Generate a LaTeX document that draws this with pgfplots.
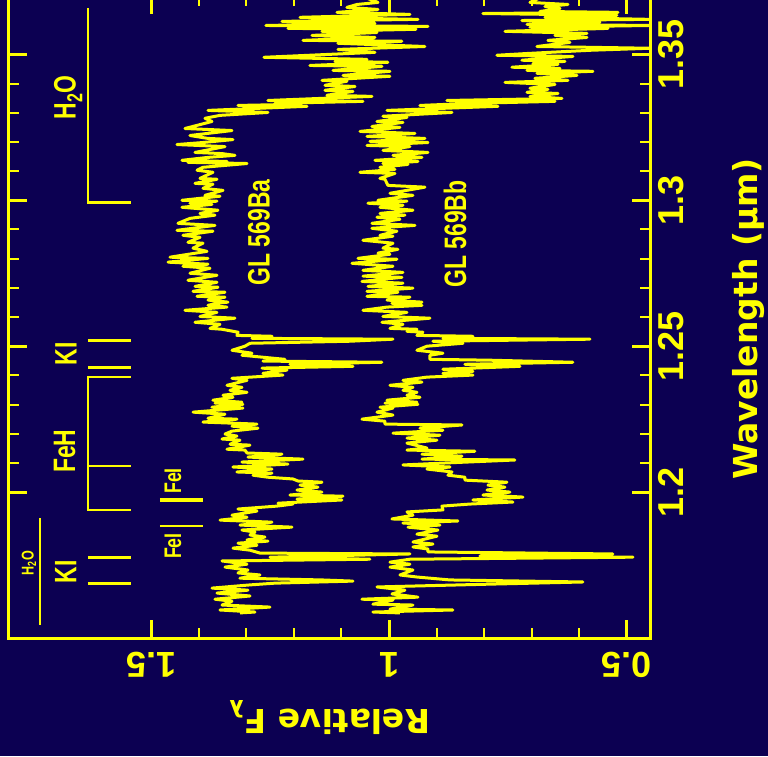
\documentclass[border=0pt]{standalone}
\usepackage{pgfplots}
\pgfplotsset{compat=1.18}
\usepackage{fontspec}
\newfontfamily\tickfont{Liberation Sans}
\newfontfamily\annfont{Liberation Sans}[FakeStretch=0.74]
\newfontfamily\labfont{DejaVu Sans}
\definecolor{bgnavy}{RGB}{12,0,82}
\definecolor{specyellow}{RGB}{255,255,0}

\begin{document}
\begin{tikzpicture}
\fill[bgnavy] (0,0) rectangle (768pt,-756pt);
\begin{axis}[
  at={(8.8pt,-638pt)}, anchor=south west,
  scale only axis, width=641.6pt, height=642pt,
  x dir=reverse,
  xmin=0.45, xmax=1.8, ymin=1.15, ymax=1.37,
  xtick={0.5,1,1.5}, ytick={1.2,1.25,1.3,1.35},
  minor x tick num=4, minor y tick num=4,
  tick align=inside,
  major tick length=18pt, minor tick length=10pt,
  xtick pos=both, ytick pos=both,
  yticklabel pos=right,
  axis line style={specyellow, line width=3pt},
  every tick/.style={specyellow},
  every major tick/.append style={line width=3pt},
  every minor tick/.append style={line width=2pt},
  /pgf/number format/assume math mode=true,
  tick label style={text=specyellow, font=\tickfont\bfseries\fontsize{36}{36}\selectfont},
  xticklabel style={rotate=180, anchor=south},
  xticklabel shift=11pt,
  yticklabel style={rotate=90, anchor=north},
  yticklabel shift=4pt,
]

% GL 569Ba
\addplot[specyellow, line width=3pt, line join=round] table[x=f, y=w] {
w f
1.3702 1.0611
1.3678 1.0232
1.3671 1.0674
1.3661 1.0885
1.3654 1.0232
1.3644 1.1095
1.3637 0.9559
1.3627 1.1873
1.3620 0.9391
1.3613 1.2252
1.3606 1.0296
1.3599 1.2589
1.3596 0.9180
1.3589 1.2126
1.3586 0.9433
1.3579 1.1410
1.3575 1.0253
1.3565 1.1621
1.3558 1.0296
1.3548 1.1810
1.3545 0.9728
1.3538 1.1074
1.3527 0.9244
1.3517 1.1074
1.3507 1.0296
1.3490 1.2631
1.3483 1.0464
1.3476 1.1137
1.3473 1.0022
1.3462 1.1663
1.3459 1.0148
1.3445 1.1179
1.3442 0.9980
1.3428 1.0969
1.3425 0.9980
1.3411 1.1410
1.3408 1.0885
1.3394 1.1347
1.3390 1.0716
1.3377 1.1347
1.3373 1.0758
1.3360 1.1305
1.3356 1.0359
1.3342 1.2547
1.3339 1.0548
1.3332 1.2399
1.3329 1.1915
1.3325 1.3178
1.3322 1.1726
1.3308 1.3809
1.3301 1.2547
1.3291 1.3556
1.3281 1.3872
1.3270 1.3725
1.3246 1.4293
1.3239 1.3304
1.3222 1.4188
1.3212 1.3809
1.3208 1.3283
1.3198 1.3914
1.3191 1.4461
1.3184 1.3451
1.3164 1.4082
1.3160 1.3514
1.3154 1.3241
1.3147 1.3809
1.3137 1.4356
1.3133 1.3409
1.3130 1.4230
1.3126 1.2988
1.3113 1.3914
1.3103 1.4040
1.3096 1.3704
1.3075 1.3977
1.3072 1.3620
1.3058 1.4082
1.3055 1.3704
1.3041 1.3914
1.3034 1.3493
1.3017 1.3872
1.3014 1.3556
1.3000 1.4356
1.2997 1.3620
1.2990 1.4188
1.2986 1.3725
1.2976 1.4356
1.2966 1.3599
1.2955 1.3977
1.2949 1.3662
1.2938 1.4188
1.2921 1.4440
1.2914 1.3662
1.2897 1.4461
1.2894 1.3704
1.2880 1.4335
1.2873 1.3977
1.2856 1.4230
1.2853 1.3914
1.2836 1.4124
1.2825 1.3830
1.2805 1.4608
1.2801 1.3809
1.2788 1.4650
1.2781 1.3809
1.2774 1.4335
1.2767 1.3767
1.2750 1.4188
1.2743 1.3620
1.2726 1.4230
1.2719 1.3620
1.2705 1.4082
1.2702 1.3599
1.2688 1.4124
1.2685 1.3451
1.2671 1.4040
1.2668 1.3451
1.2658 1.3809
1.2651 1.3388
1.2647 1.3620
1.2640 1.3809
1.2634 1.3409
1.2623 1.4293
1.2616 1.3620
1.2602 1.3977
1.2596 1.3241
1.2582 1.4082
1.2575 1.3556
1.2561 1.3767
1.2558 1.3514
1.2548 1.3178
1.2537 1.3199
1.2534 1.2462
1.2527 1.2883
1.2524 0.9917
1.2517 1.0821
1.2510 1.2925
1.2500 1.3031
1.2486 1.3304
1.2476 1.2883
1.2469 1.3094
1.2455 1.2189
1.2449 1.2652
1.2445 1.0148
1.2438 1.2084
1.2431 1.0758
1.2425 1.2673
1.2418 1.2147
1.2407 1.2652
1.2401 1.2231
1.2390 1.3304
1.2383 1.2988
1.2366 1.3409
1.2359 1.3094
1.2349 1.3346
1.2342 1.2988
1.2332 1.3493
1.2325 1.3283
1.2315 1.3704
1.2308 1.3094
1.2305 1.3662
1.2301 1.3073
1.2291 1.3725
1.2288 1.3073
1.2274 1.4124
1.2267 1.3451
1.2253 1.3809
1.2250 1.3199
1.2240 1.3914
1.2233 1.2778
1.2226 1.3304
1.2219 1.2757
1.2209 1.3304
1.2199 1.3451
1.2192 1.3199
1.2182 1.3514
1.2178 1.3136
1.2164 1.3346
1.2161 1.2925
1.2147 1.3409
1.2144 1.3031
1.2134 1.2988
1.2130 1.2252
1.2120 1.2967
1.2113 1.1810
1.2103 1.3094
1.2096 1.2126
1.2086 1.3283
1.2079 1.2462
1.2069 1.3199
1.2065 1.2462
1.2058 1.2862
1.2051 1.2547
1.2045 1.2021
1.2038 1.1915
1.2034 1.1410
1.2024 1.1873
1.2017 1.1495
1.2007 1.1937
1.2000 1.1410
1.1990 1.2084
1.1986 1.0969
1.1976 1.1937
1.1973 1.0990
1.1962 1.2336
1.1959 1.2021
1.1952 1.2357
1.1942 1.3178
1.1935 1.2778
1.1921 1.3304
1.1914 1.2988
1.1904 1.3556
1.1897 1.2462
1.1887 1.3136
1.1880 1.2042
1.1870 1.3094
1.1863 1.2820
1.1853 1.2925
1.1846 1.2610
1.1836 1.2988
1.1832 1.2547
1.1825 1.3178
1.1818 1.2778
1.1808 1.3283
1.1801 1.2925
1.1791 1.2715
1.1788 0.9559
1.1777 1.2504
1.1770 1.0401
1.1764 1.3514
1.1753 1.2988
1.1743 1.3451
1.1733 1.2967
1.1723 1.3178
1.1716 1.2715
1.1705 1.3136
1.1699 1.1410
1.1695 1.0758
1.1688 1.2399
1.1682 1.2925
1.1671 1.3725
1.1664 1.2967
1.1654 1.3620
1.1644 1.2925
1.1633 1.3662
1.1626 1.3304
1.1613 1.3514
1.1606 1.2504
1.1596 1.3556
1.1589 1.2820
1.1586 1.3136
};

% GL 569Bb
\addplot[specyellow, line width=3pt, line join=round] table[x=f, y=w] {
w f
1.3702 0.6719
1.3678 0.7034
1.3671 0.6235
1.3664 0.6719
1.3657 0.6403
1.3647 0.6824
1.3644 0.5183
1.3640 0.8023
1.3634 0.5204
1.3627 0.6719
1.3620 0.4510
1.3616 0.7203
1.3610 0.5562
1.3603 0.7097
1.3599 0.4510
1.3593 0.7034
1.3589 0.5394
1.3579 0.7560
1.3572 0.5835
1.3565 0.6508
1.3558 0.5835
1.3548 0.6656
1.3541 0.6193
1.3527 0.6887
1.3521 0.4510
1.3514 0.5772
1.3503 0.7097
1.3497 0.7729
1.3493 0.6130
1.3480 0.7203
1.3476 0.6298
1.3469 0.6971
1.3466 0.6445
1.3456 0.7413
1.3452 0.6403
1.3445 0.7097
1.3442 0.5709
1.3435 0.6887
1.3428 0.6046
1.3418 0.6929
1.3411 0.6235
1.3404 0.7560
1.3397 0.6508
1.3384 0.7034
1.3380 0.6656
1.3370 0.7097
1.3366 0.6445
1.3356 0.7034
1.3349 0.6361
1.3342 0.8781
1.3339 0.6508
1.3332 0.8297
1.3325 0.9349
1.3322 0.7708
1.3308 1.0043
1.3301 0.8675
1.3288 1.0127
1.3284 0.9622
1.3270 1.0253
1.3267 0.9706
1.3253 1.0359
1.3250 0.9770
1.3236 1.0611
1.3229 0.9454
1.3219 1.0464
1.3212 0.9244
1.3202 1.0401
1.3198 0.9180
1.3188 1.0464
1.3184 0.9559
1.3171 1.0127
1.3164 0.9180
1.3154 0.9917
1.3147 0.9307
1.3137 1.0296
1.3133 0.9391
1.3126 1.0127
1.3123 0.9601
1.3113 1.0190
1.3106 0.9875
1.3096 1.0611
1.3092 0.9875
1.3075 1.0190
1.3072 1.0085
1.3051 1.0022
1.3045 0.9244
1.3024 0.9980
1.3017 0.9496
1.3000 1.0232
1.2997 0.9622
1.2990 1.0443
1.2983 0.9706
1.2976 1.0190
1.2966 0.9496
1.2955 1.0190
1.2949 0.9664
1.2942 1.0253
1.2935 0.9770
1.2921 1.0359
1.2914 0.9454
1.2904 1.0359
1.2894 0.9833
1.2880 1.0190
1.2877 0.9917
1.2863 1.0548
1.2853 0.9917
1.2836 1.0127
1.2832 0.9812
1.2819 1.0232
1.2815 0.9980
1.2801 1.0653
1.2798 0.9833
1.2784 1.0779
1.2774 0.9917
1.2760 1.0548
1.2753 0.9706
1.2740 1.0548
1.2736 0.9728
1.2722 1.0569
1.2716 0.9706
1.2705 1.0443
1.2699 0.9496
1.2688 1.0464
1.2685 0.9812
1.2671 1.0464
1.2668 0.9559
1.2658 1.0043
1.2651 0.9307
1.2647 0.9938
1.2640 0.9307
1.2634 1.0043
1.2623 1.0548
1.2616 0.9622
1.2602 1.0127
1.2596 0.9138
1.2582 1.0148
1.2575 0.9706
1.2561 0.9980
1.2558 0.9412
1.2551 0.9622
1.2548 0.9286
1.2537 0.9412
1.2534 0.8234
1.2527 0.8865
1.2524 0.5772
1.2517 0.9075
1.2510 0.8444
1.2500 0.9202
1.2486 0.9412
1.2476 0.8865
1.2469 0.9138
1.2455 0.9138
1.2452 0.7876
1.2445 0.6130
1.2438 0.8402
1.2431 0.7245
1.2421 0.8865
1.2414 0.8234
1.2407 0.8865
1.2401 0.8234
1.2394 0.9202
1.2383 0.9706
1.2377 0.9307
1.2366 0.9980
1.2359 0.9496
1.2349 0.9706
1.2342 0.9412
1.2332 0.9622
1.2325 0.9349
1.2315 1.0043
1.2308 0.9412
1.2305 1.0085
1.2301 0.9391
1.2291 1.0190
1.2288 0.9917
1.2274 1.0253
1.2264 0.9917
1.2250 1.0569
1.2243 1.0085
1.2233 1.0085
1.2230 0.8465
1.2219 0.9349
1.2212 0.8865
1.2202 0.9917
1.2195 0.8928
1.2185 0.9622
1.2178 0.8991
1.2168 0.9622
1.2151 0.9202
1.2144 0.9622
1.2140 0.8192
1.2130 0.9307
1.2123 0.8465
1.2113 0.9307
1.2110 0.7350
1.2099 0.8928
1.2093 0.9706
1.2086 0.8717
1.2079 0.9202
1.2069 0.8675
1.2058 0.8760
1.2051 0.8402
1.2041 0.8402
1.2034 0.7518
1.2024 0.7918
1.2017 0.7560
1.2007 0.7939
1.2000 0.7455
1.1990 0.8023
1.1983 0.7182
1.1973 0.8234
1.1966 0.7392
1.1959 0.8297
1.1952 0.8886
1.1939 0.8865
1.1932 0.9622
1.1921 0.9496
1.1908 0.9938
1.1901 0.8549
1.1894 0.9706
1.1887 0.8928
1.1880 0.9601
1.1870 0.8970
1.1856 0.9412
1.1849 0.8991
1.1829 0.9496
1.1822 0.9075
1.1812 0.9496
1.1805 0.9180
1.1795 0.9180
1.1788 0.5288
1.1781 0.8086
1.1777 0.4867
1.1770 0.9559
1.1760 0.9980
1.1753 0.9559
1.1743 0.9980
1.1733 0.9496
1.1716 0.9770
1.1709 0.9412
1.1699 0.8717
1.1692 0.5919
1.1685 0.7771
1.1675 1.0253
1.1664 0.9664
1.1651 0.9938
1.1640 0.9391
1.1633 1.0569
1.1630 0.9917
1.1616 1.0338
1.1613 0.9496
1.1599 0.9980
1.1596 0.8654
1.1589 1.0338
1.1586 0.9770
};

% object names
\node[rotate=90, text=specyellow, font=\annfont\bfseries\fontsize{31}{31}\selectfont] at (axis cs:1.2736,1.2890) {GL 569Ba};
\node[rotate=90, text=specyellow, font=\annfont\bfseries\fontsize{31}{31}\selectfont] at (axis cs:0.8612,1.2884) {GL 569Bb};

% line and band identifications
\draw[specyellow, line width=2.5pt] (axis cs:1.6334,1.3658) -- (axis cs:1.6334,1.2993) -- (axis cs:1.5435,1.2993);
\node[rotate=90, text=specyellow, font=\annfont\bfseries\fontsize{31}{31}\selectfont] at (axis cs:1.675,1.3353) {H\textsubscript{2}O};

\draw[specyellow, line width=2.5pt] (axis cs:1.6334,1.2520) -- (axis cs:1.5435,1.2520);
\draw[specyellow, line width=2.5pt] (axis cs:1.6334,1.2427) -- (axis cs:1.5435,1.2427);
\node[rotate=90, text=specyellow, font=\annfont\bfseries\fontsize{31}{31}\selectfont] at (axis cs:1.6796,1.2473) {KI};

\draw[specyellow, line width=2.5pt] (axis cs:1.5435,1.2395) -- (axis cs:1.6334,1.2395) -- (axis cs:1.6334,1.1938) -- (axis cs:1.5435,1.1938);
\draw[specyellow, line width=2.5pt] (axis cs:1.6334,1.2090) -- (axis cs:1.5435,1.2090);
\node[rotate=90, text=specyellow, font=\annfont\bfseries\fontsize{31}{31}\selectfont] at (axis cs:1.6828,1.2140) {FeH};

\draw[specyellow, line width=4.5pt] (axis cs:1.4819,1.1973) -- (axis cs:1.3914,1.1973);
\node[rotate=90, text=specyellow, font=\annfont\bfseries\fontsize{24}{24}\selectfont] at (axis cs:1.4545,1.2038) {FeI};
\draw[specyellow, line width=2.5pt] (axis cs:1.4819,1.1883) -- (axis cs:1.3914,1.1883);
\node[rotate=90, text=specyellow, font=\annfont\bfseries\fontsize{24}{24}\selectfont] at (axis cs:1.4545,1.1815) {FeI};

\draw[specyellow, line width=2.5pt] (axis cs:1.6334,1.1776) -- (axis cs:1.5435,1.1776);
\draw[specyellow, line width=2.5pt] (axis cs:1.6334,1.1686) -- (axis cs:1.5435,1.1686);
\node[rotate=90, text=specyellow, font=\annfont\bfseries\fontsize{31}{31}\selectfont] at (axis cs:1.68,1.1726) {KI};

\draw[specyellow, line width=2.5pt] (axis cs:1.7344,1.1911) -- (axis cs:1.7344,1.1545);
\node[rotate=90, text=specyellow, font=\annfont\bfseries\fontsize{17}{17}\selectfont] at (axis cs:1.7575,1.1757) {H\textsubscript{2}O};
\end{axis}

% axis titles
\node[rotate=180, text=specyellow, font=\labfont\bfseries\fontsize{33}{33}\selectfont] at (329.6pt,-718pt) {Relative F\textsubscript{λ}};
\node[rotate=90, text=specyellow, font=\labfont\bfseries\fontsize{33}{33}\selectfont, inner sep=0pt] at (749pt,-319pt) {Wavelength (μm)};

\pgfresetboundingbox
\path (0,0) rectangle (768pt,-756pt);
\end{tikzpicture}
\end{document}
